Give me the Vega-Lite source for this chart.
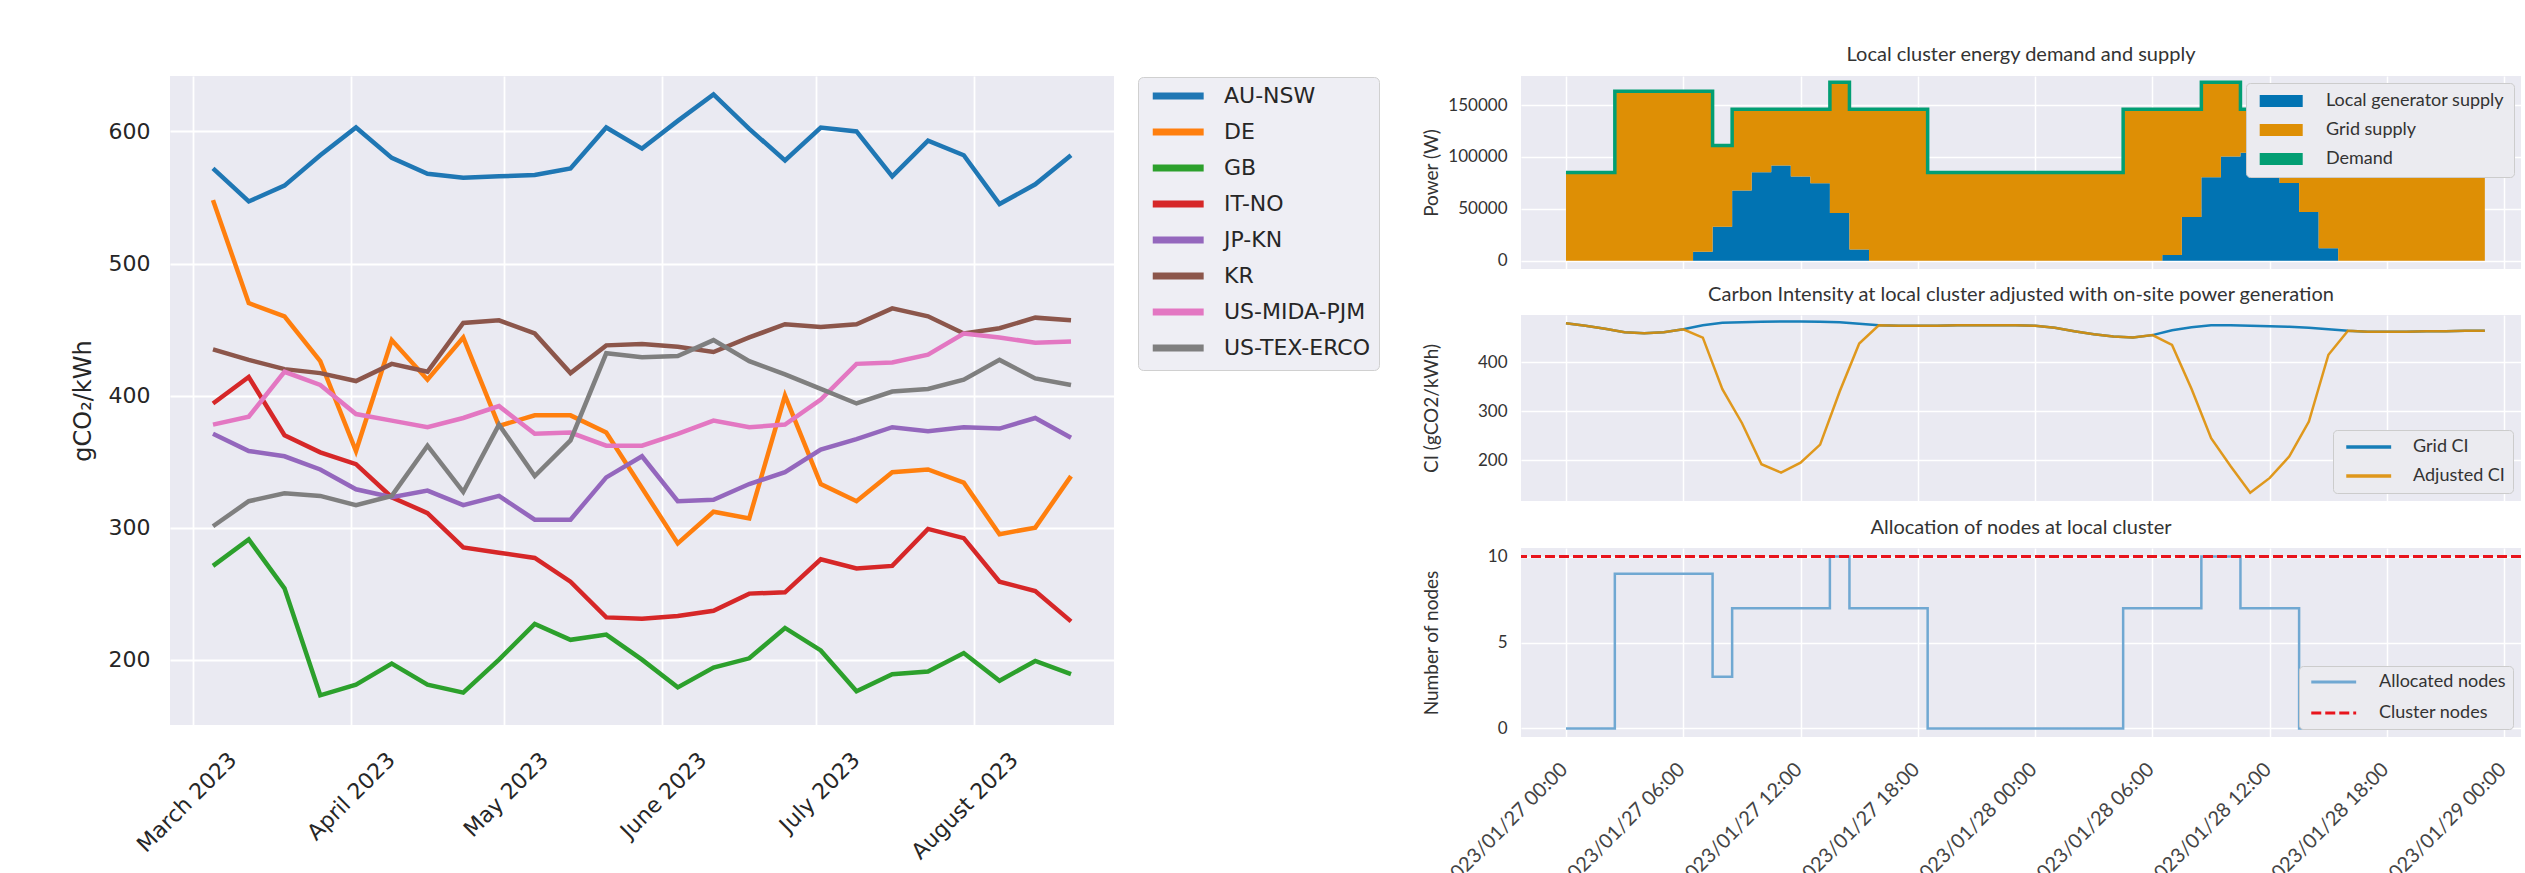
{
  "$schema": "https://vega.github.io/schema/vega-lite/v6.json",
  "background": "white",
  "padding": {"left": 71, "top": 45, "right": 0, "bottom": 0},
  "spacing": 42,
  "resolve": {
    "scale": {"color": "independent", "strokeDash": "independent"},
    "legend": {"color": "independent", "strokeDash": "independent"}
  },
  "datasets": {
    "ci": [
      {"d": "2023-03-05T00:00", "AU-NSW": 572, "DE": 548, "GB": 271, "IT-NO": 394, "JP-KN": 371, "KR": 435, "US-MIDA-PJM": 378, "US-TEX-ERCO": 301},
      {"d": "2023-03-12T00:00", "AU-NSW": 547, "DE": 470, "GB": 291, "IT-NO": 414, "JP-KN": 358, "KR": 427, "US-MIDA-PJM": 384, "US-TEX-ERCO": 320},
      {"d": "2023-03-19T00:00", "AU-NSW": 559, "DE": 460, "GB": 254, "IT-NO": 370, "JP-KN": 354, "KR": 420, "US-MIDA-PJM": 418, "US-TEX-ERCO": 326},
      {"d": "2023-03-26T00:00", "AU-NSW": 582, "DE": 426, "GB": 173, "IT-NO": 357, "JP-KN": 344, "KR": 417, "US-MIDA-PJM": 408, "US-TEX-ERCO": 324},
      {"d": "2023-04-02T00:00", "AU-NSW": 603, "DE": 358, "GB": 181, "IT-NO": 348, "JP-KN": 329, "KR": 411, "US-MIDA-PJM": 386, "US-TEX-ERCO": 317},
      {"d": "2023-04-09T00:00", "AU-NSW": 580, "DE": 442, "GB": 197, "IT-NO": 323, "JP-KN": 323, "KR": 424, "US-MIDA-PJM": 381, "US-TEX-ERCO": 324},
      {"d": "2023-04-16T00:00", "AU-NSW": 568, "DE": 412, "GB": 181, "IT-NO": 311, "JP-KN": 328, "KR": 418, "US-MIDA-PJM": 376, "US-TEX-ERCO": 362},
      {"d": "2023-04-23T00:00", "AU-NSW": 565, "DE": 444, "GB": 175, "IT-NO": 285, "JP-KN": 317, "KR": 455, "US-MIDA-PJM": 383, "US-TEX-ERCO": 327},
      {"d": "2023-04-30T00:00", "AU-NSW": 566, "DE": 377, "GB": 200, "IT-NO": 281, "JP-KN": 324, "KR": 457, "US-MIDA-PJM": 392, "US-TEX-ERCO": 378},
      {"d": "2023-05-07T00:00", "AU-NSW": 567, "DE": 385, "GB": 227, "IT-NO": 277, "JP-KN": 306, "KR": 447, "US-MIDA-PJM": 371, "US-TEX-ERCO": 339},
      {"d": "2023-05-14T00:00", "AU-NSW": 572, "DE": 385, "GB": 215, "IT-NO": 259, "JP-KN": 306, "KR": 417, "US-MIDA-PJM": 372, "US-TEX-ERCO": 366},
      {"d": "2023-05-21T00:00", "AU-NSW": 603, "DE": 372, "GB": 219, "IT-NO": 232, "JP-KN": 338, "KR": 438, "US-MIDA-PJM": 362, "US-TEX-ERCO": 432},
      {"d": "2023-05-28T00:00", "AU-NSW": 587, "DE": 330, "GB": 200, "IT-NO": 231, "JP-KN": 354, "KR": 439, "US-MIDA-PJM": 362, "US-TEX-ERCO": 429},
      {"d": "2023-06-04T00:00", "AU-NSW": 608, "DE": 288, "GB": 179, "IT-NO": 233, "JP-KN": 320, "KR": 437, "US-MIDA-PJM": 371, "US-TEX-ERCO": 430},
      {"d": "2023-06-11T00:00", "AU-NSW": 628, "DE": 312, "GB": 194, "IT-NO": 237, "JP-KN": 321, "KR": 433, "US-MIDA-PJM": 381, "US-TEX-ERCO": 442},
      {"d": "2023-06-18T00:00", "AU-NSW": 602, "DE": 307, "GB": 201, "IT-NO": 250, "JP-KN": 333, "KR": 444, "US-MIDA-PJM": 376, "US-TEX-ERCO": 426},
      {"d": "2023-06-25T00:00", "AU-NSW": 578, "DE": 400, "GB": 224, "IT-NO": 251, "JP-KN": 342, "KR": 454, "US-MIDA-PJM": 378, "US-TEX-ERCO": 416},
      {"d": "2023-07-02T00:00", "AU-NSW": 603, "DE": 333, "GB": 207, "IT-NO": 276, "JP-KN": 359, "KR": 452, "US-MIDA-PJM": 397, "US-TEX-ERCO": 405},
      {"d": "2023-07-09T00:00", "AU-NSW": 600, "DE": 320, "GB": 176, "IT-NO": 269, "JP-KN": 367, "KR": 454, "US-MIDA-PJM": 424, "US-TEX-ERCO": 394},
      {"d": "2023-07-16T00:00", "AU-NSW": 566, "DE": 342, "GB": 189, "IT-NO": 271, "JP-KN": 376, "KR": 466, "US-MIDA-PJM": 425, "US-TEX-ERCO": 403},
      {"d": "2023-07-23T00:00", "AU-NSW": 593, "DE": 344, "GB": 191, "IT-NO": 299, "JP-KN": 373, "KR": 460, "US-MIDA-PJM": 431, "US-TEX-ERCO": 405},
      {"d": "2023-07-30T00:00", "AU-NSW": 582, "DE": 334, "GB": 205, "IT-NO": 292, "JP-KN": 376, "KR": 447, "US-MIDA-PJM": 447, "US-TEX-ERCO": 412},
      {"d": "2023-08-06T00:00", "AU-NSW": 545, "DE": 295, "GB": 184, "IT-NO": 259, "JP-KN": 375, "KR": 451, "US-MIDA-PJM": 444, "US-TEX-ERCO": 427},
      {"d": "2023-08-13T00:00", "AU-NSW": 560, "DE": 300, "GB": 199, "IT-NO": 252, "JP-KN": 383, "KR": 459, "US-MIDA-PJM": 440, "US-TEX-ERCO": 413},
      {"d": "2023-08-20T00:00", "AU-NSW": 582, "DE": 339, "GB": 189, "IT-NO": 229, "JP-KN": 368, "KR": 457, "US-MIDA-PJM": 441, "US-TEX-ERCO": 408}
    ],
    "h": [
      {"t": "2023-01-27T00:00", "Local generator supply": 0, "Grid supply": 85000, "Demand": 85000, "Grid CI": 479, "Adjusted CI": 479, "Allocated nodes": 0},
      {"t": "2023-01-27T01:00", "Local generator supply": 0, "Grid supply": 85000, "Demand": 85000, "Grid CI": 474, "Adjusted CI": 474, "Allocated nodes": 0},
      {"t": "2023-01-27T02:00", "Local generator supply": 0, "Grid supply": 85000, "Demand": 85000, "Grid CI": 468, "Adjusted CI": 468, "Allocated nodes": 0},
      {"t": "2023-01-27T03:00", "Local generator supply": 0, "Grid supply": 163300, "Demand": 163300, "Grid CI": 461, "Adjusted CI": 461, "Allocated nodes": 9},
      {"t": "2023-01-27T04:00", "Local generator supply": 0, "Grid supply": 163300, "Demand": 163300, "Grid CI": 459, "Adjusted CI": 459, "Allocated nodes": 9},
      {"t": "2023-01-27T05:00", "Local generator supply": 0, "Grid supply": 163300, "Demand": 163300, "Grid CI": 461, "Adjusted CI": 461, "Allocated nodes": 9},
      {"t": "2023-01-27T06:00", "Local generator supply": 0, "Grid supply": 163300, "Demand": 163300, "Grid CI": 467, "Adjusted CI": 467, "Allocated nodes": 9},
      {"t": "2023-01-27T07:00", "Local generator supply": 8600, "Grid supply": 154700, "Demand": 163300, "Grid CI": 475, "Adjusted CI": 450, "Allocated nodes": 9},
      {"t": "2023-01-27T08:00", "Local generator supply": 32600, "Grid supply": 78400, "Demand": 111000, "Grid CI": 480, "Adjusted CI": 345, "Allocated nodes": 3},
      {"t": "2023-01-27T09:00", "Local generator supply": 67700, "Grid supply": 78300, "Demand": 146000, "Grid CI": 481, "Adjusted CI": 276, "Allocated nodes": 7},
      {"t": "2023-01-27T10:00", "Local generator supply": 85300, "Grid supply": 60700, "Demand": 146000, "Grid CI": 482, "Adjusted CI": 192, "Allocated nodes": 7},
      {"t": "2023-01-27T11:00", "Local generator supply": 91700, "Grid supply": 54300, "Demand": 146000, "Grid CI": 483, "Adjusted CI": 175, "Allocated nodes": 7},
      {"t": "2023-01-27T12:00", "Local generator supply": 81100, "Grid supply": 64900, "Demand": 146000, "Grid CI": 483, "Adjusted CI": 195, "Allocated nodes": 7},
      {"t": "2023-01-27T13:00", "Local generator supply": 74700, "Grid supply": 71300, "Demand": 146000, "Grid CI": 482, "Adjusted CI": 232, "Allocated nodes": 7},
      {"t": "2023-01-27T14:00", "Local generator supply": 46000, "Grid supply": 126000, "Demand": 172000, "Grid CI": 481, "Adjusted CI": 340, "Allocated nodes": 10},
      {"t": "2023-01-27T15:00", "Local generator supply": 10900, "Grid supply": 135100, "Demand": 146000, "Grid CI": 478, "Adjusted CI": 438, "Allocated nodes": 7},
      {"t": "2023-01-27T16:00", "Local generator supply": 0, "Grid supply": 146000, "Demand": 146000, "Grid CI": 475, "Adjusted CI": 475, "Allocated nodes": 7},
      {"t": "2023-01-27T17:00", "Local generator supply": 0, "Grid supply": 146000, "Demand": 146000, "Grid CI": 474, "Adjusted CI": 474, "Allocated nodes": 7},
      {"t": "2023-01-27T18:00", "Local generator supply": 0, "Grid supply": 146000, "Demand": 146000, "Grid CI": 474, "Adjusted CI": 474, "Allocated nodes": 7},
      {"t": "2023-01-27T19:00", "Local generator supply": 0, "Grid supply": 85000, "Demand": 85000, "Grid CI": 474, "Adjusted CI": 474, "Allocated nodes": 0},
      {"t": "2023-01-27T20:00", "Local generator supply": 0, "Grid supply": 85000, "Demand": 85000, "Grid CI": 475, "Adjusted CI": 475, "Allocated nodes": 0},
      {"t": "2023-01-27T21:00", "Local generator supply": 0, "Grid supply": 85000, "Demand": 85000, "Grid CI": 475, "Adjusted CI": 475, "Allocated nodes": 0},
      {"t": "2023-01-27T22:00", "Local generator supply": 0, "Grid supply": 85000, "Demand": 85000, "Grid CI": 475, "Adjusted CI": 475, "Allocated nodes": 0},
      {"t": "2023-01-27T23:00", "Local generator supply": 0, "Grid supply": 85000, "Demand": 85000, "Grid CI": 475, "Adjusted CI": 475, "Allocated nodes": 0},
      {"t": "2023-01-28T00:00", "Local generator supply": 0, "Grid supply": 85000, "Demand": 85000, "Grid CI": 474, "Adjusted CI": 474, "Allocated nodes": 0},
      {"t": "2023-01-28T01:00", "Local generator supply": 0, "Grid supply": 85000, "Demand": 85000, "Grid CI": 470, "Adjusted CI": 470, "Allocated nodes": 0},
      {"t": "2023-01-28T02:00", "Local generator supply": 0, "Grid supply": 85000, "Demand": 85000, "Grid CI": 463, "Adjusted CI": 463, "Allocated nodes": 0},
      {"t": "2023-01-28T03:00", "Local generator supply": 0, "Grid supply": 85000, "Demand": 85000, "Grid CI": 457, "Adjusted CI": 457, "Allocated nodes": 0},
      {"t": "2023-01-28T04:00", "Local generator supply": 0, "Grid supply": 85000, "Demand": 85000, "Grid CI": 452, "Adjusted CI": 452, "Allocated nodes": 0},
      {"t": "2023-01-28T05:00", "Local generator supply": 0, "Grid supply": 146000, "Demand": 146000, "Grid CI": 450, "Adjusted CI": 450, "Allocated nodes": 7},
      {"t": "2023-01-28T06:00", "Local generator supply": 0, "Grid supply": 146000, "Demand": 146000, "Grid CI": 455, "Adjusted CI": 455, "Allocated nodes": 7},
      {"t": "2023-01-28T07:00", "Local generator supply": 5500, "Grid supply": 140500, "Demand": 146000, "Grid CI": 465, "Adjusted CI": 435, "Allocated nodes": 7},
      {"t": "2023-01-28T08:00", "Local generator supply": 42000, "Grid supply": 104000, "Demand": 146000, "Grid CI": 471, "Adjusted CI": 345, "Allocated nodes": 7},
      {"t": "2023-01-28T09:00", "Local generator supply": 80500, "Grid supply": 91500, "Demand": 172000, "Grid CI": 475, "Adjusted CI": 245, "Allocated nodes": 10},
      {"t": "2023-01-28T10:00", "Local generator supply": 100500, "Grid supply": 71500, "Demand": 172000, "Grid CI": 475, "Adjusted CI": 188, "Allocated nodes": 10},
      {"t": "2023-01-28T11:00", "Local generator supply": 104000, "Grid supply": 42000, "Demand": 146000, "Grid CI": 474, "Adjusted CI": 134, "Allocated nodes": 7},
      {"t": "2023-01-28T12:00", "Local generator supply": 93000, "Grid supply": 53000, "Demand": 146000, "Grid CI": 473, "Adjusted CI": 164, "Allocated nodes": 7},
      {"t": "2023-01-28T13:00", "Local generator supply": 75000, "Grid supply": 71000, "Demand": 146000, "Grid CI": 472, "Adjusted CI": 208, "Allocated nodes": 7},
      {"t": "2023-01-28T14:00", "Local generator supply": 47000, "Grid supply": 38000, "Demand": 85000, "Grid CI": 470, "Adjusted CI": 279, "Allocated nodes": 0},
      {"t": "2023-01-28T15:00", "Local generator supply": 12000, "Grid supply": 73000, "Demand": 85000, "Grid CI": 467, "Adjusted CI": 415, "Allocated nodes": 0},
      {"t": "2023-01-28T16:00", "Local generator supply": 0, "Grid supply": 85000, "Demand": 85000, "Grid CI": 464, "Adjusted CI": 464, "Allocated nodes": 0},
      {"t": "2023-01-28T17:00", "Local generator supply": 0, "Grid supply": 85000, "Demand": 85000, "Grid CI": 462, "Adjusted CI": 462, "Allocated nodes": 0},
      {"t": "2023-01-28T18:00", "Local generator supply": 0, "Grid supply": 85000, "Demand": 85000, "Grid CI": 462, "Adjusted CI": 462, "Allocated nodes": 0},
      {"t": "2023-01-28T19:00", "Local generator supply": 0, "Grid supply": 85000, "Demand": 85000, "Grid CI": 462, "Adjusted CI": 462, "Allocated nodes": 0},
      {"t": "2023-01-28T20:00", "Local generator supply": 0, "Grid supply": 85000, "Demand": 85000, "Grid CI": 463, "Adjusted CI": 463, "Allocated nodes": 0},
      {"t": "2023-01-28T21:00", "Local generator supply": 0, "Grid supply": 85000, "Demand": 85000, "Grid CI": 463, "Adjusted CI": 463, "Allocated nodes": 0},
      {"t": "2023-01-28T22:00", "Local generator supply": 0, "Grid supply": 85000, "Demand": 85000, "Grid CI": 464, "Adjusted CI": 464, "Allocated nodes": 0},
      {"t": "2023-01-28T23:00", "Local generator supply": 0, "Grid supply": 85000, "Demand": 85000, "Grid CI": 464, "Adjusted CI": 464, "Allocated nodes": 0}
    ]
  },
  "hconcat": [
    {
      "width": 944,
      "height": 649,
      "title": {"text": " ", "fontSize": 11, "offset": 0},
      "data": {"name": "ci"},
      "transform": [{"fold": ["AU-NSW", "DE", "GB", "IT-NO", "JP-KN", "KR", "US-MIDA-PJM", "US-TEX-ERCO"], "as": ["r", "v"]}],
      "mark": {"type": "line", "strokeWidth": 4.5, "clip": true},
      "encoding": {
        "x": {
          "field": "d", "type": "temporal",
          "scale": {"domain": [{"year": 2023, "month": 2, "date": 24, "hours": 14}, {"year": 2023, "month": 8, "date": 28, "hours": 10}]},
          "axis": {
            "title": null, "format": "%B %Y",
            "values": [{"year": 2023, "month": 3, "date": 1}, {"year": 2023, "month": 4, "date": 1}, {"year": 2023, "month": 5, "date": 1}, {"year": 2023, "month": 6, "date": 1}, {"year": 2023, "month": 7, "date": 1}, {"year": 2023, "month": 8, "date": 1}],
            "labelFont": "DejaVu Sans", "labelFontSize": 22, "labelColor": "#262626",
            "labelAngle": -45, "labelAlign": "right", "labelBaseline": "middle",
            "labelOffset": 40, "labelPadding": 31, "gridWidth": 1.8
          }
        },
        "y": {
          "field": "v", "type": "quantitative",
          "scale": {"domain": [150.5, 642], "nice": false, "zero": false},
          "axis": {
            "title": "gCO₂/kWh", "values": [200, 300, 400, 500, 600],
            "labelFont": "DejaVu Sans", "labelFontSize": 22, "labelColor": "#262626", "labelPadding": 20,
            "titleFont": "DejaVu Sans", "titleFontSize": 24, "titleColor": "#262626", "titlePadding": 13, "gridWidth": 1.8
          }
        },
        "color": {
          "field": "r", "type": "nominal",
          "scale": {"domain": ["AU-NSW", "DE", "GB", "IT-NO", "JP-KN", "KR", "US-MIDA-PJM", "US-TEX-ERCO"], "range": ["#1f77b4", "#ff7f0e", "#2ca02c", "#d62728", "#9467bd", "#8c564b", "#e377c2", "#7f7f7f"]},
          "legend": {
            "title": null, "orient": "none", "legendX": 968, "legendY": 1,
            "symbolType": "M-1,0H11", "symbolSize": 72, "symbolStrokeWidth": 7,
            "labelFont": "DejaVu Sans", "labelFontSize": 22, "labelColor": "#262626",
            "labelOffset": 56, "rowPadding": 8, "padding": 8,
            "fillColor": "#eeeef4", "strokeColor": "#d0d0d0", "cornerRadius": 5
          }
        }
      }
    },
    {
      "spacing": 16,
      "resolve": {
        "scale": {"color": "independent", "strokeDash": "independent"},
        "legend": {"color": "independent", "strokeDash": "independent"}
      },
      "vconcat": [
        {
          "width": 1000,
          "height": 193,
          "title": "Local cluster energy demand and supply",
          "layer": [
            {
              "data": {"name": "h"},
              "transform": [{"fold": ["Local generator supply", "Grid supply"], "as": ["s", "w"]}],
              "mark": {"type": "area", "interpolate": "step"},
              "encoding": {
                "x": {
                  "field": "t", "type": "temporal",
                  "scale": {"domain": [{"year": 2023, "month": 1, "date": 26, "hours": 21, "minutes": 42}, {"year": 2023, "month": 1, "date": 29, "hours": 0, "minutes": 51}]},
                  "axis": {"title": null, "labels": false, "values": [{"year": 2023, "month": 1, "date": 27, "hours": 0}, {"year": 2023, "month": 1, "date": 27, "hours": 6}, {"year": 2023, "month": 1, "date": 27, "hours": 12}, {"year": 2023, "month": 1, "date": 27, "hours": 18}, {"year": 2023, "month": 1, "date": 28, "hours": 0}, {"year": 2023, "month": 1, "date": 28, "hours": 6}, {"year": 2023, "month": 1, "date": 28, "hours": 12}, {"year": 2023, "month": 1, "date": 28, "hours": 18}, {"year": 2023, "month": 1, "date": 29, "hours": 0}]}
                },
                "y": {
                  "field": "w", "type": "quantitative", "stack": "zero",
                  "scale": {"domain": [-8000, 178000], "nice": false, "zero": false},
                  "axis": {"title": "Power (W)", "values": [0, 50000, 100000, 150000], "format": "d", "labelPadding": 14, "titlePadding": 8, "minExtent": 72, "maxExtent": 72}
                },
                "color": {
                  "field": "s", "type": "nominal",
                  "scale": {"domain": ["Local generator supply", "Grid supply", "Demand"], "range": ["#0173b2", "#de8f05", "#029e73"]},
                  "legend": {
                    "title": null, "orient": "top-right", "offset": 7,
                    "symbolType": "M-1,-1.4H9V1.4H-1Z", "symbolSize": 74, "symbolStrokeWidth": 0,
                    "labelOffset": 53, "rowPadding": 11, "padding": 9, "labelLimit": 400
                  }
                },
                "order": {"field": "s", "sort": "descending"}
              }
            },
            {
              "data": {"name": "h"},
              "transform": [{"fold": ["Demand"], "as": ["s", "w"]}],
              "mark": {"type": "line", "interpolate": "step", "strokeWidth": 3.5},
              "encoding": {
                "x": {"field": "t", "type": "temporal"},
                "y": {"field": "w", "type": "quantitative"},
                "color": {"field": "s", "type": "nominal"}
              }
            }
          ]
        },
        {
          "width": 1000,
          "height": 186,
          "title": "Carbon Intensity at local cluster adjusted with on-site power generation",
          "data": {"name": "h"},
          "transform": [{"fold": ["Grid CI", "Adjusted CI"], "as": ["s", "c"]}],
          "mark": {"type": "line", "strokeWidth": 2.5, "opacity": 0.9},
          "encoding": {
            "x": {
              "field": "t", "type": "temporal",
              "scale": {"domain": [{"year": 2023, "month": 1, "date": 26, "hours": 21, "minutes": 42}, {"year": 2023, "month": 1, "date": 29, "hours": 0, "minutes": 51}]},
              "axis": {"title": null, "labels": false, "values": [{"year": 2023, "month": 1, "date": 27, "hours": 0}, {"year": 2023, "month": 1, "date": 27, "hours": 6}, {"year": 2023, "month": 1, "date": 27, "hours": 12}, {"year": 2023, "month": 1, "date": 27, "hours": 18}, {"year": 2023, "month": 1, "date": 28, "hours": 0}, {"year": 2023, "month": 1, "date": 28, "hours": 6}, {"year": 2023, "month": 1, "date": 28, "hours": 12}, {"year": 2023, "month": 1, "date": 28, "hours": 18}, {"year": 2023, "month": 1, "date": 29, "hours": 0}]}
            },
            "y": {
              "field": "c", "type": "quantitative",
              "scale": {"domain": [117, 496], "nice": false, "zero": false},
              "axis": {"title": "CI (gCO2/kWh)", "values": [200, 300, 400], "labelPadding": 14, "titlePadding": 8, "minExtent": 72, "maxExtent": 72}
            },
            "color": {
              "field": "s", "type": "nominal",
              "scale": {"domain": ["Grid CI", "Adjusted CI"], "range": ["#0173b2", "#de8f05"]},
              "legend": {
                "title": null, "orient": "bottom-right", "offset": 8,
                "symbolType": "M-1,0H11", "symbolSize": 56, "symbolStrokeWidth": 3.5,
                "labelOffset": 54, "rowPadding": 11, "padding": 8
              }
            }
          }
        },
        {
          "width": 1000,
          "height": 189,
          "title": "Allocation of nodes at local cluster",
          "layer": [
            {
              "data": {"name": "h"},
              "transform": [{"fold": ["Allocated nodes"], "as": ["s", "n"]}],
              "mark": {"type": "line", "interpolate": "step", "strokeWidth": 2.5},
              "encoding": {
                "x": {
                  "field": "t", "type": "temporal",
                  "scale": {"domain": [{"year": 2023, "month": 1, "date": 26, "hours": 21, "minutes": 42}, {"year": 2023, "month": 1, "date": 29, "hours": 0, "minutes": 51}]},
                  "axis": {
                    "title": null, "format": "%Y/%m/%d %H:%M",
                    "values": [{"year": 2023, "month": 1, "date": 27, "hours": 0}, {"year": 2023, "month": 1, "date": 27, "hours": 6}, {"year": 2023, "month": 1, "date": 27, "hours": 12}, {"year": 2023, "month": 1, "date": 27, "hours": 18}, {"year": 2023, "month": 1, "date": 28, "hours": 0}, {"year": 2023, "month": 1, "date": 28, "hours": 6}, {"year": 2023, "month": 1, "date": 28, "hours": 12}, {"year": 2023, "month": 1, "date": 28, "hours": 18}, {"year": 2023, "month": 1, "date": 29, "hours": 0}],
                    "labelAngle": -45, "labelAlign": "right", "labelBaseline": "middle",
                    "labelOffset": -2, "labelPadding": 29, "labelFontSize": 20, "labelColor": "#444444"
                  }
                },
                "y": {
                  "field": "n", "type": "quantitative",
                  "scale": {"domain": [-0.5, 10.5], "nice": false, "zero": false},
                  "axis": {"title": "Number of nodes", "values": [0, 5, 10], "labelPadding": 14, "titlePadding": 8, "minExtent": 72, "maxExtent": 72}
                },
                "color": {
                  "field": "s", "type": "nominal",
                  "scale": {"domain": ["Allocated nodes", "Cluster nodes"], "range": ["#70a8d2", "#e8141c"]},
                  "legend": {
                    "title": null, "orient": "bottom-right", "offset": 8,
                    "symbolType": "M-1,0H11", "symbolSize": 56, "symbolStrokeWidth": 3,
                    "labelOffset": 55, "rowPadding": 13, "padding": 7
                  }
                },
                "strokeDash": {
                  "field": "s", "type": "nominal",
                  "scale": {"domain": ["Allocated nodes", "Cluster nodes"], "range": [[1, 0], [10, 4]]},
                  "legend": {
                    "title": null, "orient": "bottom-right", "offset": 8,
                    "symbolType": "M-1,0H11", "symbolSize": 56, "symbolStrokeWidth": 3,
                    "labelOffset": 55, "rowPadding": 13, "padding": 7
                  }
                }
              }
            },
            {
              "data": {"values": [{"s": "Cluster nodes", "n": 10}]},
              "mark": {"type": "rule", "strokeWidth": 3},
              "encoding": {
                "y": {"field": "n", "type": "quantitative"},
                "color": {"field": "s", "type": "nominal"},
                "strokeDash": {"field": "s", "type": "nominal"}
              }
            }
          ]
        }
      ]
    }
  ],
  "config": {
    "view": {"fill": "#eaeaf2", "stroke": null},
    "axis": {
      "domain": false, "ticks": false, "tickSize": 0,
      "gridColor": "#ffffff", "gridWidth": 1.5,
      "labelColor": "#333333", "titleColor": "#333333", "titleFontWeight": "normal",
      "labelOverlap": false, "labelFlush": false, "labelBound": false,
      "labelFont": "Lato", "titleFont": "Lato", "labelFontSize": 17, "titleFontSize": 19
    },
    "title": {"font": "Lato", "fontSize": 20, "fontWeight": "normal", "color": "#333333", "offset": 10},
    "legend": {
      "labelFont": "Lato", "labelFontSize": 18, "labelColor": "#333333",
      "fillColor": "#ebebf0", "strokeColor": "#cccccc", "cornerRadius": 4
    }
  }
}
